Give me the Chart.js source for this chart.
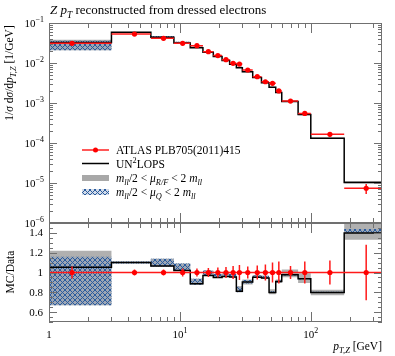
<!DOCTYPE html>
<html>
<head>
<meta charset="utf-8">
<script src="https://cdn.jsdelivr.net/npm/chart.js@4.4.0/dist/chart.umd.min.js"></script>
<style>
  html, body { margin: 0; padding: 0; background: #fff; }
  #wrap { position: relative; width: 395px; height: 356px; }
  canvas { position: absolute; left: 0; top: 0; }
</style>
</head>
<body>
<div id="wrap">
  <canvas id="main" width="395" height="356"></canvas>
  <canvas id="ratio" width="395" height="356"></canvas>
</div>
<script>
// bin edges in pT (GeV); the first bin 0-3 is drawn from the axis minimum 1
const binEdges = [0, 3, 6, 9, 12, 15, 18, 21, 24, 27, 30, 36, 42, 48, 54, 60, 80, 100, 180, 350]
// ATLAS data, 1/sigma dsigma/dpT [1/GeV]
const dataValues = [0.0311, 0.053, 0.0414, 0.031, 0.0271, 0.0192, 0.0153, 0.0121, 0.0098, 0.0094,
  0.00668, 0.00455, 0.0034, 0.0031, 0.0020, 0.00112, 0.00055, 1.65e-4, 7.4e-6]
const dataRelErr = [0.06, 0.03, 0.03, 0.04, 0.04, 0.045, 0.05, 0.055, 0.065, 0.075,
  0.06, 0.07, 0.08, 0.10, 0.11, 0.065, 0.11, 0.12, 0.28]
// UN2LOPS / data
const mcRatio = [1.053, 1.10, 1.065, 1.02, 0.887, 0.97, 0.95, 0.96, 0.955, 0.81,
  0.903, 0.953, 0.945, 0.797, 0.91, 0.977, 0.937, 0.797, 1.40]
// mu_R/F variation band (ratio to data)
const scaleBandLo = [0.67, 1.09, 1.06, 1.015, 0.877, 0.965, 0.945, 0.955, 0.95, 0.80,
  0.88, 0.945, 0.94, 0.78, 0.895, 0.953, 0.893, 0.77, 1.33]
const scaleBandHi = [1.22, 1.11, 1.14, 1.09, 0.937, 1.02, 0.985, 0.99, 0.985, 0.86,
  0.93, 0.975, 0.97, 0.83, 0.93, 1.03, 0.993, 0.827, 1.52]
// mu_Q variation band (ratio to data)
const qBandLo = [0.67, 1.09, 1.06, 1.015, 0.877, 0.965, 0.945, 0.955, 0.95, 0.80,
  0.89, 0.945, 0.94, 0.795, 0.90, 0.97, 0.93, 0.795, 1.40]
const qBandHi = [1.16, 1.11, 1.14, 1.09, 0.937, 1.02, 0.985, 0.99, 0.985, 0.855,
  0.925, 0.97, 0.965, 0.81, 0.92, 0.985, 0.945, 0.805, 1.44]
// tick labels
const yTickExps = [-1, -2, -3, -4, -5, -6]
const ratioTickLabels = ['1.4', '1.2', '1', '0.8', '0.6']

const FONT = '"Liberation Serif", "DejaVu Serif", serif'
const xMin = 1, xMax = 350

const lowEdge = i => Math.max(binEdges[i], xMin)
const centers = dataValues.map((v, i) => i === 0 ? 1.5 : (binEdges[i] + binEdges[i + 1]) / 2)

// histogram points, drawn with stepped:'before' (flat to the next edge, then vertical)
function stepPoints(vals) {
  const pts = vals.map((v, i) => ({ x: lowEdge(i), y: v }))
  pts.push({ x: binEdges[binEdges.length - 1], y: vals[vals.length - 1] })
  return pts
}

const mult = (a, b) => a.map((v, i) => v * b[i])

function hatchPattern() {
  const c = document.createElement('canvas')
  c.width = 5; c.height = 5
  const g = c.getContext('2d')
  g.fillStyle = 'rgba(120,150,190,0.35)'
  g.fillRect(0, 0, 5, 5)
  g.strokeStyle = '#2a5b9e'
  g.lineWidth = 1
  g.beginPath()
  g.moveTo(0, 0); g.lineTo(5, 5)
  g.moveTo(5, 0); g.lineTo(0, 5)
  g.stroke()
  return g.createPattern(c, 'repeat')
}
const hatch = hatchPattern()

function fontFor(s, size) {
  const sz = (s.sub || s.sup) ? size * 0.72 : size
  return (s.it ? 'italic ' : '') + sz.toFixed(1) + 'px ' + FONT
}
function richWidth(ctx, segs, size) {
  let w = 0
  for (const s of segs) { ctx.font = fontFor(s, size); w += ctx.measureText(s.t).width }
  return w
}
function drawRich(ctx, x, y, segs, size, align) {
  const w = richWidth(ctx, segs, size)
  if (align === 'right') x -= w
  else if (align === 'center') x -= w / 2
  ctx.textBaseline = 'alphabetic'
  for (const s of segs) {
    ctx.font = fontFor(s, size)
    const dy = s.sub ? size * 0.28 : s.sup ? -size * 0.42 : 0
    ctx.fillText(s.t, x, y + dy)
    x += ctx.measureText(s.t).width
  }
}

// inward ticks on top/bottom edges
function drawXTicks(ctx, xs, area) {
  const minors = [2, 3, 4, 5, 6, 7, 8, 9, 20, 30, 40, 50, 60, 70, 80, 90, 200, 300]
  const majors = [10, 100]
  ctx.beginPath()
  for (const v of minors) {
    const px = Math.round(xs.getPixelForValue(v)) + 0.5
    ctx.moveTo(px, area.top); ctx.lineTo(px, area.top + 5)
    ctx.moveTo(px, area.bottom); ctx.lineTo(px, area.bottom - 5)
  }
  for (const v of majors) {
    const px = Math.round(xs.getPixelForValue(v)) + 0.5
    ctx.moveTo(px, area.top); ctx.lineTo(px, area.top + 10)
    ctx.moveTo(px, area.bottom); ctx.lineTo(px, area.bottom - 10)
  }
  ctx.stroke()
}

const framePlugin = {
  id: 'frame',
  afterDatasetsDraw(chart) {
    const { ctx, chartArea: a, scales } = chart
    ctx.save()
    ctx.strokeStyle = '#707070'
    ctx.lineWidth = 1
    ctx.strokeRect(a.left + 0.5, a.top + 0.5, a.right - a.left - 1, a.bottom - a.top - 1)
    drawXTicks(ctx, scales.x, a)
    const ys = scales.y
    ctx.beginPath()
    if (ys.type === 'logarithmic') {
      for (let e = -6; e <= -1; e++) {
        for (let m = 1; m <= 9; m++) {
          const v = m * Math.pow(10, e)
          if (v > 0.1 + 1e-12) continue
          const py = Math.round(ys.getPixelForValue(v)) + 0.5
          const len = m === 1 ? 8 : 4
          ctx.moveTo(a.left, py); ctx.lineTo(a.left + len, py)
          ctx.moveTo(a.right, py); ctx.lineTo(a.right - len, py)
        }
      }
    } else {
      for (let k = 0; k <= 20; k++) {
        const v = 0.5 + k * 0.05
        const py = Math.round(ys.getPixelForValue(v)) + 0.5
        const major = k % 4 === 2
        const len = major ? 8 : 4
        ctx.moveTo(a.left, py); ctx.lineTo(a.left + len, py)
        ctx.moveTo(a.right, py); ctx.lineTo(a.right - len, py)
      }
    }
    ctx.stroke()
    ctx.restore()
  }
}

const textPluginTop = {
  id: 'textTop',
  afterDraw(chart) {
    const { ctx, scales } = chart
    ctx.save()
    ctx.fillStyle = '#000'
    // title
    drawRich(ctx, 50, 14, [
      { t: 'Z', it: true }, { t: ' ' }, { t: 'p', it: true }, { t: 'T', it: true, sub: true },
      { t: ' reconstructed from dressed electrons' }], 13, 'left')
    // y tick labels
    yTickExps.forEach(e => {
      const py = scales.y.getPixelForValue(Math.pow(10, e))
      drawRich(ctx, 44, py + 3.5, [{ t: '10' }, { t: '\u2212' + (-e), sup: true }], 11, 'right')
    })
    // y title
    ctx.translate(13, 73)
    ctx.rotate(-Math.PI / 2)
    drawRich(ctx, 0, 0, [
      { t: '1/' }, { t: '\u03c3', it: true }, { t: ' d' }, { t: '\u03c3', it: true }, { t: '/d' },
      { t: 'p', it: true }, { t: 'T,Z', it: true, sub: true }, { t: ' [1/GeV]' }], 11.5, 'center')
    ctx.restore()

    // legend
    ctx.save()
    const lx0 = 82, lx1 = 109, tx = 116
    const rows = [150, 163.5, 178, 192]
    ctx.strokeStyle = '#ff2020'; ctx.lineWidth = 1.5
    ctx.beginPath(); ctx.moveTo(lx0, rows[0]); ctx.lineTo(lx1, rows[0]); ctx.stroke()
    ctx.fillStyle = '#ff0000'
    ctx.beginPath(); ctx.arc((lx0 + lx1) / 2, rows[0], 2.5, 0, Math.PI * 2); ctx.fill()
    ctx.strokeStyle = '#000'; ctx.lineWidth = 1.5
    ctx.beginPath(); ctx.moveTo(lx0, rows[1]); ctx.lineTo(lx1, rows[1]); ctx.stroke()
    ctx.fillStyle = '#a8a8a8'
    ctx.fillRect(lx0, rows[2] - 3, lx1 - lx0, 6)
    ctx.fillStyle = hatch
    ctx.fillRect(lx0, rows[3] - 3, lx1 - lx0, 6)
    ctx.fillStyle = '#000'
    const sz = 11.5
    drawRich(ctx, tx, rows[0] + 4, [{ t: 'ATLAS PLB705(2011)415' }], sz, 'left')
    drawRich(ctx, tx, rows[1] + 4, [{ t: 'UN' }, { t: '2', sup: true }, { t: 'LOPS' }], sz, 'left')
    drawRich(ctx, tx, rows[2] + 4, [
      { t: 'm', it: true }, { t: 'll', it: true, sub: true }, { t: '/2 < ' },
      { t: '\u03bc', it: true }, { t: 'R/F', it: true, sub: true }, { t: ' < 2 ' },
      { t: 'm', it: true }, { t: 'll', it: true, sub: true }], sz, 'left')
    drawRich(ctx, tx, rows[3] + 4, [
      { t: 'm', it: true }, { t: 'll', it: true, sub: true }, { t: '/2 < ' },
      { t: '\u03bc', it: true }, { t: 'Q', it: true, sub: true }, { t: ' < 2 ' },
      { t: 'm', it: true }, { t: 'll', it: true, sub: true }], sz, 'left')
    ctx.restore()
  }
}

const textPluginRatio = {
  id: 'textRatio',
  afterDraw(chart) {
    const { ctx, scales } = chart
    ctx.save()
    ctx.fillStyle = '#000'
    ratioTickLabels.forEach(l => {
      const py = scales.y.getPixelForValue(parseFloat(l))
      drawRich(ctx, 43, py + 3.5, [{ t: l }], 11, 'right')
    })
    const by = 338
    drawRich(ctx, scales.x.getPixelForValue(1), by, [{ t: '1' }], 11, 'center')
    drawRich(ctx, scales.x.getPixelForValue(10), by, [{ t: '10' }, { t: '1', sup: true }], 11, 'center')
    drawRich(ctx, scales.x.getPixelForValue(100), by, [{ t: '10' }, { t: '2', sup: true }], 11, 'center')
    drawRich(ctx, 382, 350, [{ t: 'p', it: true }, { t: 'T,Z', it: true, sub: true }, { t: ' [GeV]' }], 11.5, 'right')
    ctx.translate(14, 272)
    ctx.rotate(-Math.PI / 2)
    drawRich(ctx, 0, 0, [{ t: 'MC/Data' }], 11.5, 'center')
    ctx.restore()
  }
}

function errBars(yVals, relErr) {
  const v = [], h = []
  yVals.forEach((y, i) => {
    const c = centers[i]
    v.push({ x: c, y: y * (1 - relErr[i]) }, { x: c, y: y * (1 + relErr[i]) }, { x: c, y: null })
    h.push({ x: lowEdge(i), y: y }, { x: binEdges[i + 1], y: y }, { x: lowEdge(i), y: null })
  })
  return { v, h }
}

// Chart.js paints the last dataset first, so the list runs from top layer to bottom layer
function buildDatasets(base) {
  const b = base ? dataValues : dataValues.map(() => 1)
  const eb = errBars(b, dataRelErr)
  const band = { stepped: 'before', pointRadius: 0, borderWidth: 0 }
  return [
    { data: b.map((y, i) => ({ x: centers[i], y })), showLine: false, pointRadius: 2.6,
      pointBackgroundColor: '#ff0000', pointBorderWidth: 0 },
    { data: eb.v, pointRadius: 0, borderColor: '#ff1a1a', borderWidth: 1.5, spanGaps: false, fill: false },
    { data: eb.h, pointRadius: 0, borderColor: '#ff1a1a', borderWidth: 1.5, spanGaps: false, fill: false },
    { data: stepPoints(mult(mcRatio, b)), stepped: 'before', pointRadius: 0, borderColor: '#000', borderWidth: 1.5, fill: false },
    { ...band, data: stepPoints(mult(qBandHi, b)), fill: '+1', backgroundColor: hatch },
    { ...band, data: stepPoints(mult(qBandLo, b)), fill: false },
    { ...band, data: stepPoints(mult(scaleBandHi, b)), fill: '+1', backgroundColor: '#b0b0b0' },
    { ...band, data: stepPoints(mult(scaleBandLo, b)), fill: false }
  ]
}

const common = {
  responsive: false,
  animation: false,
  devicePixelRatio: 1,
  plugins: { legend: { display: false }, tooltip: { enabled: false } }
}

new Chart(document.getElementById('main'), {
  type: 'line',
  data: { datasets: buildDatasets(true) },
  options: {
    ...common,
    layout: { padding: { left: 49, right: 13, top: 23, bottom: 133 } },
    scales: {
      x: { type: 'logarithmic', min: xMin, max: xMax, display: false },
      y: { type: 'logarithmic', min: 1e-6, max: 0.1, display: false }
    }
  },
  plugins: [framePlugin, textPluginTop]
})

new Chart(document.getElementById('ratio'), {
  type: 'line',
  data: { datasets: buildDatasets(false) },
  options: {
    ...common,
    layout: { padding: { left: 49, right: 13, top: 223, bottom: 34 } },
    scales: {
      x: { type: 'logarithmic', min: xMin, max: xMax, display: false },
      y: { type: 'linear', min: 0.5, max: 1.5, display: false }
    }
  },
  plugins: [framePlugin, textPluginRatio]
})
</script>
</body>
</html>
